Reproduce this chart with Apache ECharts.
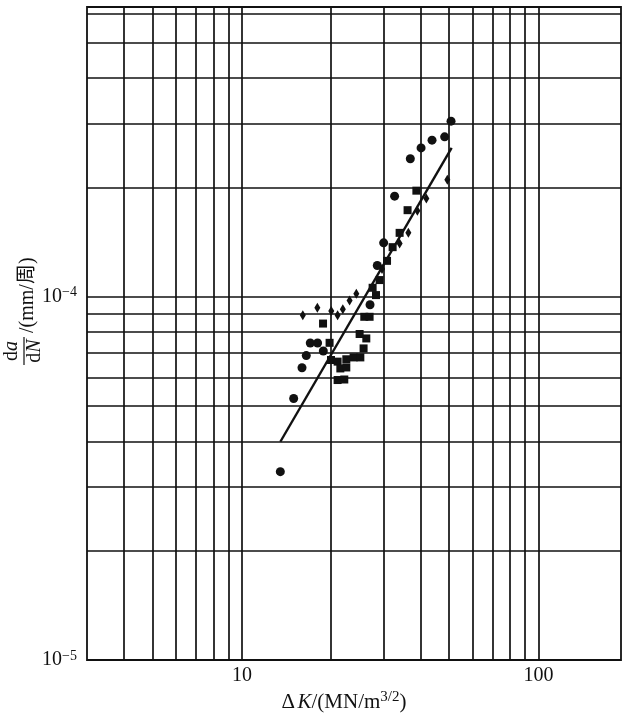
<!DOCTYPE html>
<html><head><meta charset="utf-8">
<script src="https://cdn.jsdelivr.net/npm/echarts@6/dist/echarts.min.js"></script>
<style>html,body{margin:0;padding:0;background:#fff}#c{width:630px;height:720px}</style>
</head><body><div id="c"></div>
<script>
// ---- data (ΔK in MN/m^3/2, da/dN in mm/cycle) ----
const circles = [
  [13.47,3.30e-5],[14.94,5.25e-5],[15.94,6.38e-5],[16.48,6.89e-5],[17.0,7.46e-5],
  [17.99,7.46e-5],[18.81,7.09e-5],[27.04,9.51e-5],[28.61,1.22e-4],[30.06,1.408e-4],
  [32.73,1.893e-4],[36.98,2.40e-4],[40.2,2.57e-4],[43.77,2.70e-4],[48.28,2.757e-4],
  [50.74,3.045e-4]
];
const squares = [
  [18.77,8.44e-5],[19.75,7.47e-5],[19.97,6.70e-5],[21.02,6.63e-5],[22.49,6.73e-5],
  [23.80,6.81e-5],[25.08,6.81e-5],[25.72,7.21e-5],[26.27,7.68e-5],[24.94,7.90e-5],
  [21.47,6.35e-5],[22.49,6.39e-5],[21.02,5.90e-5],[22.14,5.92e-5],[25.86,8.81e-5],
  [26.95,8.81e-5],[27.59,1.059e-4],[28.33,1.011e-4],[29.13,1.112e-4],[30.86,1.256e-4],
  [32.23,1.370e-4],[34.03,1.50e-4],[36.2,1.732e-4],[38.76,1.96e-4]
];
const diamonds = [
  [16.04,8.89e-5],[17.96,9.33e-5],[20.01,9.14e-5],[21.02,8.89e-5],[21.89,9.24e-5],
  [23.07,9.77e-5],[24.31,1.019e-4],[29.68,1.192e-4],[34.03,1.403e-4],[36.42,1.502e-4],
  [39.06,1.727e-4],[41.88,1.866e-4],[49.3,2.10e-4]
];
const fitLine = [[13.47,3.99e-5],[50.98,2.57e-4]];
const xRange = [3,190];
const yRange = [1e-5,6.28e-4];
const xGridValues = [4,5,6,7,8,9,10,20,30,40,50,60,70,80,90,100];
const yGridValues = [2e-5,3e-5,4e-5,5e-5,6e-5,7e-5,8e-5,9e-5,1e-4,2e-4,3e-4,4e-4,5e-4,6e-4];
const xTickValues = [10,100];
const xTickLabels = ['10','100'];
const yTickValues = [1e-5,1e-4];
const yTickExponents = ['−5','−4'];

const INK = '#111';
const SERIF = "'Liberation Serif','Times New Roman','Noto Sans CJK SC',serif";

function matchTick(v, vals){
  for (let i=0;i<vals.length;i++){ if (Math.abs(Math.log10(v)-Math.log10(vals[i]))<1e-6) return i; }
  return -1;
}

const chart = echarts.init(document.getElementById('c'), null, {renderer:'canvas'});
const gridLines = xGridValues.map(v=>[{coord:[v,yRange[0]]},{coord:[v,yRange[1]]}])
  .concat(yGridValues.map(v=>[{coord:[xRange[0],v]},{coord:[xRange[1],v]}]));

chart.setOption({
  animation:false,
  backgroundColor:'#fff',
  grid:{left:87,right:9,top:7,bottom:60,show:true,borderColor:INK,borderWidth:1.8,backgroundColor:'transparent'},
  xAxis:{
    type:'log', min:xRange[0], max:xRange[1], logBase:10,
    axisLine:{show:false}, axisTick:{show:false}, splitLine:{show:false},
    axisLabel:{
      margin:6, color:INK, fontFamily:SERIF, fontSize:20,
      formatter:function(v){ const i=matchTick(v,xTickValues); return i<0?'':xTickLabels[i]; }
    }
  },
  yAxis:{
    type:'log', min:yRange[0], max:yRange[1], logBase:10,
    axisLine:{show:false}, axisTick:{show:false}, splitLine:{show:false},
    axisLabel:{
      margin:10, color:INK,
      formatter:function(v){ const i=matchTick(v,yTickValues); return i<0?'':'{b|10}{s|'+yTickExponents[i]+'}'; },
      rich:{
        b:{fontFamily:SERIF,fontSize:20,lineHeight:22,color:INK},
        s:{fontFamily:SERIF,fontSize:14,lineHeight:14,verticalAlign:'top',color:INK}
      }
    }
  },
  graphic:[
    {type:'group', x:24, y:351, rotation:Math.PI/2, silent:true, children:[
      {type:'text', x:0, y:-2, style:{text:'{r|d}{i|a}', textAlign:'center', textVerticalAlign:'bottom',
        rich:{r:{fontFamily:SERIF,fontSize:20,fill:INK},i:{fontFamily:SERIF,fontSize:20,fontStyle:'italic',fill:INK}}}},
      {type:'line', shape:{x1:-14,y1:0,x2:14,y2:0}, style:{stroke:INK,lineWidth:1.2}},
      {type:'text', x:0, y:1, style:{text:'{r|d}{i|N}', textAlign:'center', textVerticalAlign:'top',
        rich:{r:{fontFamily:SERIF,fontSize:20,fill:INK},i:{fontFamily:SERIF,fontSize:20,fontStyle:'italic',fill:INK}}}},
      {type:'text', x:18, y:4, style:{text:'/(mm/周)', textAlign:'left', textVerticalAlign:'middle',
        font:'20px '+SERIF, fill:INK}}
    ]},
    {type:'text', x:344, y:702, silent:true, style:{
      text:'{n|Δ}{g| }{i|K}{n|/(MN/m}{s|3/2}{n|)}', textAlign:'center', textVerticalAlign:'middle',
      rich:{
        n:{fontFamily:SERIF,fontSize:21,lineHeight:24,fill:INK},
        g:{fontFamily:SERIF,fontSize:10,lineHeight:24,fill:INK},
        i:{fontFamily:SERIF,fontSize:21,lineHeight:24,fontStyle:'italic',fill:INK},
        s:{fontFamily:SERIF,fontSize:15,lineHeight:14,verticalAlign:'top',fill:INK}
      }
    }}
  ],
  series:[
    {type:'line', name:'fit', data:fitLine, showSymbol:false, z:3,
      lineStyle:{color:INK,width:2.4}, silent:true,
      markLine:{silent:true, z:1, symbol:['none','none'], label:{show:false},
        lineStyle:{color:INK,width:1.7,type:'solid'}, emphasis:{disabled:true}, data:gridLines}},
    {type:'scatter', name:'circles', data:circles, symbol:'circle', symbolSize:9, z:4,
      itemStyle:{color:INK,opacity:1}},
    {type:'scatter', name:'squares', data:squares, symbol:'rect', symbolSize:8, z:4,
      itemStyle:{color:INK,opacity:1}},
    {type:'scatter', name:'diamonds', data:diamonds, symbol:'diamond', symbolSize:[6,10], z:4,
      itemStyle:{color:INK,opacity:1}}
  ]
});
</script>
</body></html>
